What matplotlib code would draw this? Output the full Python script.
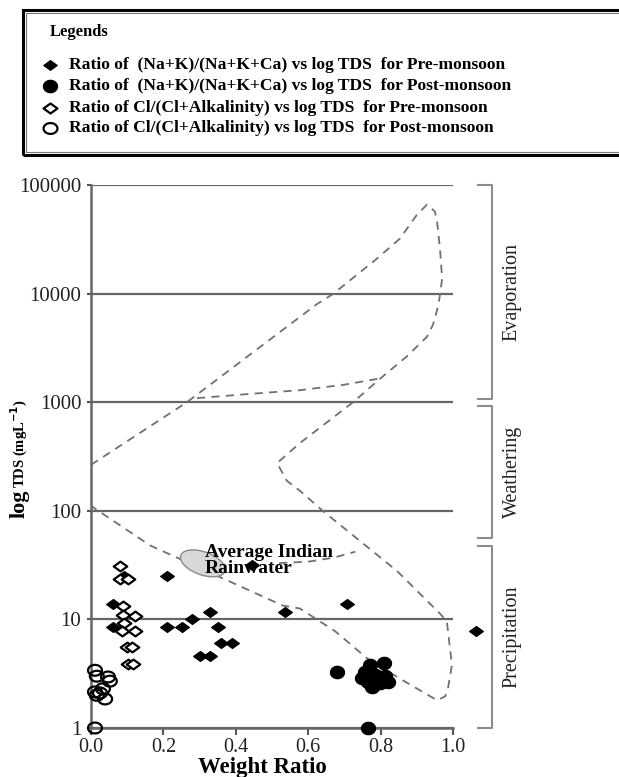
import numpy as np
import matplotlib
matplotlib.use("Agg")
import matplotlib.pyplot as plt
from matplotlib.path import Path
from matplotlib.patches import Ellipse, Rectangle
from matplotlib.lines import Line2D
from matplotlib.transforms import ScaledTranslation, blended_transform_factory
from matplotlib.ticker import NullLocator, FixedLocator

plt.rcParams['font.family'] = ['Liberation Serif', 'DejaVu Serif']

# ---------------- data ----------------
pre_nak_ratio = [0.06, 0.06, 0.09, 0.21, 0.21, 0.25, 0.28, 0.33, 0.35, 0.36, 0.39,
                 0.30, 0.33, 0.445, 0.535, 0.707, 1.063]
pre_nak_tds = [14, 8.6, 24.9, 24.9, 8.6, 8.6, 10, 11.8, 8.6, 6.1, 6.1,
               4.56, 4.56, 32, 11.8, 14, 7.75]

post_nak_ratio = [0.68, 0.765, 0.81, 0.77, 0.757, 0.748, 0.765, 0.775, 0.798, 0.82, 0.812, 0.785]
post_nak_tds = [3.25, 1.0, 4.0, 3.77, 3.3, 2.86, 2.68, 2.41, 2.57, 2.68, 3.0, 3.05]

pre_cl_ratio = [0.080, 0.080, 0.102, 0.088, 0.088, 0.122, 0.092, 0.086, 0.122, 0.099, 0.113, 0.102, 0.116]
pre_cl_tds = [30.7, 23.8, 23.8, 13.2, 10.9, 10.7, 9.2, 7.8, 7.8, 5.6, 5.6, 3.9, 3.9]

post_cl_ratio = [0.011, 0.016, 0.047, 0.052, 0.011, 0.025, 0.039, 0.016, 0.033, 0.011]
post_cl_tds = [3.4, 3.0, 2.95, 2.7, 2.15, 2.1, 1.85, 2.0, 2.3, 1.0]

# Gibbs boundary (dashed) curves
outer_ratio = [0.0, 0.265, 0.624, 0.67, 0.79, 0.853, 0.90, 0.928, 0.95, 0.956, 0.964, 0.97,
               0.96, 0.945, 0.928, 0.873, 0.80, 0.724, 0.577, 0.514, 0.541, 0.577, 0.64,
               0.845, 0.964, 0.983, 0.997, 0.986, 0.978, 0.956, 0.853, 0.762, 0.674,
               0.577, 0.53, 0.365, 0.163, 0.0]
outer_tds = [265, 1000, 8000, 10000, 21000, 32000, 53000, 66000, 57000, 46000, 26000, 13700,
             7900, 5200, 4000, 2650, 1660, 1000, 420, 275, 189, 153, 100,
             28, 11.3, 9.6, 3.8, 2.3, 1.95, 1.8, 2.85, 4.4, 7.8,
             12.6, 13.4, 23.8, 48, 111]
inner_ratio = [0.293, 0.45, 0.577, 0.70, 0.80]
inner_tds = [1090, 1200, 1290, 1450, 1660]
rain_ratio = [0.52, 0.60, 0.67, 0.73]
rain_tds = [33, 34, 37, 42]

x_ticks = [0.0, 0.2, 0.4, 0.6, 0.8, 1.0]
x_tick_labels = ['0.0', '0.2', '0.4', '0.6', '0.8', '1.0']
y_ticks = [1, 10, 100, 1000, 10000, 100000]
y_tick_labels = ['1', '10', '100', '1000', '10000', '100000']

legend_labels = [
    'Ratio of  (Na+K)/(Na+K+Ca) vs log TDS  for Pre-monsoon',
    'Ratio of  (Na+K)/(Na+K+Ca) vs log TDS  for Post-monsoon',
    'Ratio of Cl/(Cl+Alkalinity) vs log TDS  for Pre-monsoon',
    'Ratio of Cl/(Cl+Alkalinity) vs log TDS  for Post-monsoon',
]
zones = [('Evaporation', 100000, 1070), ('Weathering', 930, 56.5), ('Precipitation', 47.6, 1.0)]

# ---------------- markers ----------------
diamond = Path([(-1, 0), (0, 0.72), (1, 0), (0, -0.72), (-1, 0)],
               [Path.MOVETO, Path.LINETO, Path.LINETO, Path.LINETO, Path.CLOSEPOLY])
t = np.linspace(0, 2 * np.pi, 60)
def ell_path(a):
    v = np.column_stack([np.cos(t), a * np.sin(t)])
    return Path(v, closed=True)
circ_f = ell_path(0.88)
circ_o = ell_path(0.78)

W, H = 619, 777
fig = plt.figure(figsize=(W / 100, H / 100), dpi=100)
L, R, T, B = 91, 453, 185, 728
ax = fig.add_axes([L / W, (H - B) / H, (R - L) / W, (B - T) / H])
ax.set_yscale('log')
ax.set_xlim(0, 1)
ax.set_ylim(1, 100000)

gray = '#666666'
for s in ['top', 'right']:
    ax.spines[s].set_visible(False)
for s in ['left', 'bottom']:
    ax.spines[s].set_color(gray)
    ax.spines[s].set_linewidth(1.8)

ax.yaxis.set_major_locator(FixedLocator(y_ticks))
ax.yaxis.set_minor_locator(NullLocator())
ax.set_yticklabels(y_tick_labels)
ax.set_xticks(x_ticks)
ax.set_xticklabels(x_tick_labels)
ax.tick_params(axis='both', labelsize=15, colors='#555555', labelcolor='#222222',
               width=1.5, direction='out')
ax.tick_params(axis='x', length=5, pad=2, labelsize=14.5)
ax.tick_params(axis='y', length=3, pad=4)
ax.yaxis.grid(True, color=gray, linewidth=1.6)
ax.set_axisbelow(True)

# boundary curves
dash = dict(color='#707070', linewidth=1.3, linestyle=(0, (4.5, 3.5)), zorder=2)
ax.plot(outer_ratio, outer_tds, **dash)
ax.plot(inner_ratio, inner_tds, **dash)
ax.plot(rain_ratio, rain_tds, **dash)

# average Indian rainwater
rain_ell = Ellipse((0, 0), 0.47, 0.23, angle=-20, facecolor='#d8d8d8', edgecolor='#8a8a8a',
                   linewidth=1.0, zorder=3,
                   transform=fig.dpi_scale_trans + ScaledTranslation(0.309, 32.8, ax.transData))
ax.add_patch(rain_ell)
ax.text(0.315, 49, 'Average Indian\nRainwater', fontsize=14, fontweight='bold',
        va='top', ha='left', linespacing=0.9, zorder=4)

# data
ax.scatter(pre_nak_ratio, pre_nak_tds, marker=diamond, s=95, c='black', zorder=5, clip_on=False)
ax.scatter(post_nak_ratio, post_nak_tds, marker=circ_f, s=100, c='black', zorder=5, clip_on=False)
ax.scatter(pre_cl_ratio, pre_cl_tds, marker=diamond, s=95, facecolors='white',
           edgecolors='black', linewidths=1.6, zorder=6, clip_on=False)
ax.scatter(post_cl_ratio, post_cl_tds, marker=circ_o, s=100, facecolors='none',
           edgecolors='black', linewidths=1.6, zorder=6, clip_on=False)

# axis labels
ax.set_xlabel('Weight Ratio', fontsize=16.5, fontweight='bold', va='baseline')
ax.xaxis.set_label_coords((262 - L) / (R - L), -(773 - B) / (B - T))
fig.text(25 / W, (H - 518) / H, 'log', fontsize=16, fontweight='bold', rotation=90,
         rotation_mode='anchor', ha='left', va='baseline')
fig.text(25 / W, (H - 488) / H, 'TDS (mgL$^{\\mathbf{-1}}$)', fontsize=10.5, fontweight='bold',
         rotation=90, rotation_mode='anchor', ha='left', va='baseline')

# zone brackets
btr = blended_transform_factory(ax.transAxes, ax.transData)
xv = (492 - L) / (R - L)
xt = (478 - L) / (R - L)
for name, top, bot in zones:
    ax.plot([xt, xv, xv, xt], [top, top, bot, bot], color='#8c8c8c', linewidth=1.5,
            transform=btr, clip_on=False)
    ymid = np.sqrt(top * bot)
    ax.text((512 - L) / (R - L), ymid, name, transform=btr, rotation=90, fontsize=14.5,
            ha='center', va='center', color='#222222')

# legend box
def fx(px):
    return px / W
def fy(py):
    return (H - py) / H
fig.add_artist(Rectangle((fx(23), fy(155)), fx(640) - fx(23), fy(10) - fy(155),
                         transform=fig.transFigure, fill=False, edgecolor='black', linewidth=2.2))
fig.add_artist(Rectangle((fx(26), fy(152)), fx(640) - fx(26), fy(13) - fy(152),
                         transform=fig.transFigure, fill=False, edgecolor='#777777', linewidth=0.8))
fig.text(fx(50), fy(32), 'Legends', fontsize=12, fontweight='bold', va='center', ha='left')
rows = [65, 86, 108, 128]
styles = [dict(marker=diamond, markerfacecolor='black', markeredgecolor='black', markersize=9.5),
          dict(marker=circ_f, markerfacecolor='black', markeredgecolor='black', markersize=10),
          dict(marker=diamond, markerfacecolor='white', markeredgecolor='black', markersize=10,
               markeredgewidth=1.6),
          dict(marker=circ_o, markerfacecolor='white', markeredgecolor='black', markersize=10,
               markeredgewidth=1.6)]
for ry, st, lab in zip(rows, styles, legend_labels):
    fig.add_artist(Line2D([fx(50)], [fy(ry)], linestyle='none', transform=fig.transFigure, **st))
    fig.text(fx(69), fy(ry), lab, fontsize=12.6, fontweight='bold', va='center', ha='left')

fig.savefig('out.png', dpi=100)
